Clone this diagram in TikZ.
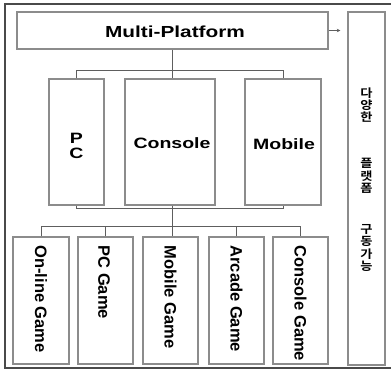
\documentclass[tikz,border=0pt]{standalone}
\usepackage{fontspec}
\setmainfont{Liberation Sans}
\newfontfamily\widefont[FakeStretch=1.3]{Liberation Sans}
\newfontfamily\kofont[FakeStretch=1.15,BoldFont={Noto Sans CJK KR Bold},BoldFeatures={FakeStretch=1.15}]{Noto Sans CJK KR}
\usetikzlibrary{calc,arrows.meta}
\definecolor{boxgray}{HTML}{8C8C8C}
\definecolor{linkgray}{HTML}{5E5E5E}
\definecolor{framegray}{HTML}{4A4A4A}
\begin{document}
\begin{tikzpicture}[x=1pt,y=-1pt,
  box/.style={draw=boxgray, line width=1.3pt, inner sep=0pt, fill=white},
  link/.style={draw=linkgray, line width=0.9pt},
  hlabel/.style={font=\widefont\bfseries\fontsize{15}{15}\selectfont, align=center, inner sep=0pt},
  vlabel/.style={font=\bfseries\fontsize{16.5}{16.5}\selectfont, rotate=-90, anchor=west, inner sep=0pt},
  kolabel/.style={font=\kofont\bfseries\fontsize{11.5}{12.4}\selectfont, align=center, inner sep=0pt},
]
\useasboundingbox (0,0) rectangle (391,371);
% outer frame
\draw[draw=framegray, line width=1.1pt] (5,4) rectangle (396,368);

% top level
\node[box, minimum width=311pt, minimum height=37pt] (multi) at (172.5,30.5) {};
\node[hlabel, font=\widefont\bfseries\fontsize{16}{16}\selectfont] (multitext) at (175,32) {Multi-Platform};

% platforms
\node[box, minimum width=55pt, minimum height=126pt] (pc) at (76.5,142) {};
\node[box, minimum width=90pt, minimum height=126pt] (console) at (170,142) {};
\node[box, minimum width=76pt, minimum height=126pt] (mobile) at (283,142) {};
\node[hlabel] (pctext) at (76.5,146) {P\\C};
\node[hlabel] (consoletext) at (172,143) {Console};
\node[hlabel] (mobiletext) at (284,144) {Mobile};

% games
\node[box, minimum width=56pt, minimum height=127pt] (g1) at (41,300.5) {};
\node[box, minimum width=55pt, minimum height=127pt] (g2) at (105.5,300.5) {};
\node[box, minimum width=55pt, minimum height=127pt] (g3) at (170.5,300.5) {};
\node[box, minimum width=55pt, minimum height=127pt] (g4) at (236.5,300.5) {};
\node[box, minimum width=55pt, minimum height=127pt] (g5) at (300.5,300.5) {};
\node[vlabel] (g1text) at ($(g1.north)+(0,9)$) {On-line Game};
\node[vlabel] (g2text) at ($(g2.north)+(-1.5,9)$) {PC Game};
\node[vlabel] (g3text) at ($(g3.north)+(0,9)$) {Mobile Game};
\node[vlabel] (g4text) at ($(g4.north)+(0,9)$) {Arcade Game};
\node[vlabel] (g5text) at ($(g5.north)+(0,9)$) {Console Game};

% side box
\node[box, minimum width=37pt, minimum height=353pt] (side) at (366.5,188.5) {};
\node[kolabel] (ko1) at (366.5,105) {다\\양\\한};
\node[kolabel] (ko2) at (366.5,176) {플\\랫\\폼};
\node[kolabel] (ko3) at (366.5,248) {구\\동\\가\\능};

% connectors
\draw[link] (multi.south) -- (multi.south |- console.north);
\draw[link] (pc.north) -- ++(0,-8) -| (mobile.north);
\draw[link] (pc.south) -- ++(0,3) -| (mobile.south);
\draw[link] (multi.south |- console.south) -- (multi.south |- g3.north);
\draw[link] (g1.north) -- ++(0,-10) -| (g5.north);
\draw[link] (g2.north) -- ++(0,-10);
\draw[link] (g4.north) -- ++(0,-10);
\draw[link, -{Stealth[length=3.5pt,width=3.5pt]}, shorten >=7pt] (multi.east) -- (side.west |- multi.east);
\end{tikzpicture}
\end{document}
